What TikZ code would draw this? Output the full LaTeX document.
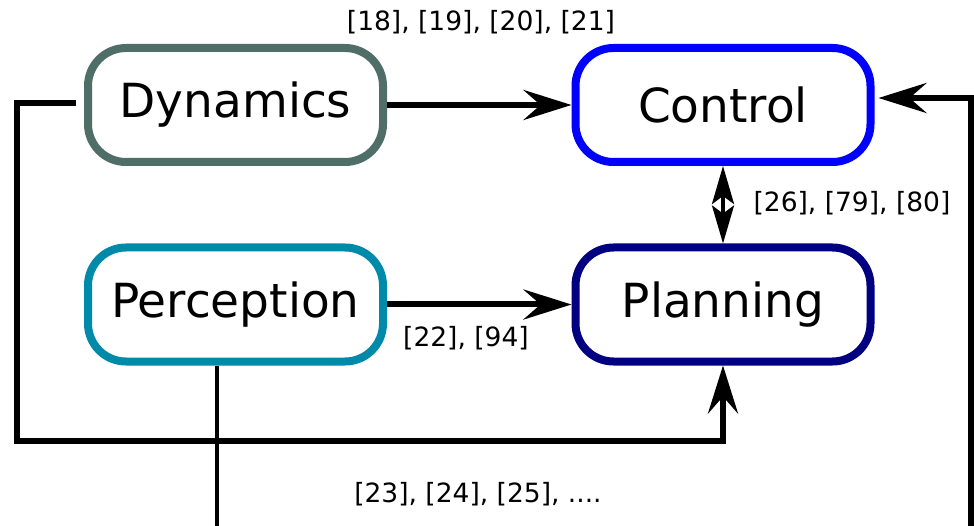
\documentclass[tikz,border=0pt]{standalone}
\usepackage{fontspec}
\setmainfont{DejaVu Sans}
\usetikzlibrary{arrows.meta}
\definecolor{dyncol}{RGB}{80,110,104}
\definecolor{ctlcol}{RGB}{0,0,255}
\definecolor{percol}{RGB}{0,138,170}
\definecolor{plncol}{RGB}{0,0,128}
\tikzset{
  block/.style={draw, line width=8pt, rounded corners=38pt, fill=white,
    minimum width=295pt, minimum height=114pt, inner sep=0pt,
    font=\fontsize{47}{56}\selectfont},
  reflabel/.style={inner sep=0pt, font=\fontsize{26.5}{32}\selectfont},
  flow/.style={line width=6pt, -{Stealth[length=48pt,width=30pt,inset=17pt]}},
  feed/.style={line width=4.5pt},
  mutual/.style={line width=3.5pt, {Stealth[length=38pt,width=22pt,inset=8pt]}-{Stealth[length=38pt,width=22pt,inset=8pt]}}
}
\begin{document}
\begin{tikzpicture}[x=1pt, y=-1pt]
  \useasboundingbox (0,0) rectangle (974,526);

  % the four blocks
  \node[block, draw=dyncol] (dyn) at (235.5,105) {Dynamics};
  \node[block, draw=ctlcol] (ctl) at (723,105) {Control};
  \node[block, draw=percol] (per) at (235.5,304.5) {Perception};
  \node[block, draw=plncol] (pln) at (723,304.5) {Planning};

  % reference labels
  \node[reflabel] (l1) at (481,22) {[18], [19], [20], [21]};
  \node[reflabel] (l2) at (852,203) {[26], [79], [80]};
  \node[reflabel] (l3) at (466,338) {[22], [94]};
  \node[reflabel] (l4) at (478,494) {[23], [24], [25], ....};

  % corner and border points of the routed lines
  \coordinate (lc) at (17,441);
  \coordinate (rb) at (971,526);
  \coordinate (pb) at (217,526);

  % straight links
  \draw[flow] (dyn.east) -- (ctl.west);
  \draw[flow] (per.east) -- (pln.west);
  \draw[mutual] (ctl.south) -- (pln.north);

  % Dynamics around to Planning
  \draw[flow] ([xshift=-8pt,yshift=2pt]dyn.west) -| (lc) -| (pln.south);

  % from the lower border up to Control
  \draw[flow, shorten >=4pt] (rb) |- ([yshift=7pt]ctl.east);

  % Perception down to the lower border
  \draw[feed] ([xshift=-18.5pt]per.south) -- (pb);
\end{tikzpicture}
\end{document}
